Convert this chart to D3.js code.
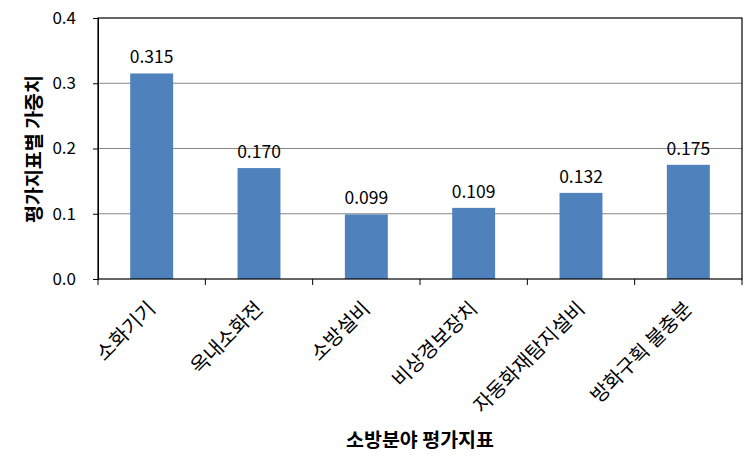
<!DOCTYPE html>
<html><head><meta charset="utf-8">
<script src="https://cdn.jsdelivr.net/npm/d3@7"></script>
<style>body{margin:0;background:#fff;} text{font-family:"Noto Sans CJK KR","Noto Sans",sans-serif;}</style>
</head><body><svg id="c" width="756" height="473"></svg>
<script>
const categories = ["소화기기","옥내소화전","소방설비","비상경보장치","자동화재탐지설비","방화구획 불충분"];
const values = [0.315, 0.170, 0.099, 0.109, 0.132, 0.175];
const yTicks = [0.0, 0.1, 0.2, 0.3, 0.4];
const yTitle = "평가지표별 가중치";
const xTitle = "소방분야 평가지표";

const svg = d3.select("#c");
const L = 98, R = 742, T = 18, B = 279;
const x = d3.scaleBand().domain(categories).range([L, R]).paddingInner(0.6).paddingOuter(0.3);
const y = d3.scaleLinear().domain([0, 0.4]).range([B, T]);

// gridlines
svg.append("g").selectAll("line").data(yTicks.filter(d => d > 0 && d < 0.4)).join("line")
  .attr("x1", L).attr("x2", R).attr("y1", d => y(d)).attr("y2", d => y(d))
  .attr("stroke", "#868686").attr("stroke-width", 1);

// bars
svg.append("g").selectAll("rect").data(values).join("rect")
  .attr("x", (d, i) => x(categories[i])).attr("width", x.bandwidth())
  .attr("y", d => y(d)).attr("height", d => B - y(d))
  .attr("fill", "#4F81BD");

// value labels
svg.append("g").selectAll("text").data(values).join("text")
  .attr("x", (d, i) => x(categories[i]) + x.bandwidth() / 2)
  .attr("y", d => y(d) - 10)
  .attr("text-anchor", "middle").attr("font-size", 17.5).attr("fill", "#000")
  .text(d => d.toFixed(3));

// frame
svg.append("rect").attr("x", L).attr("y", T).attr("width", R - L).attr("height", B - T)
  .attr("fill", "none").attr("stroke", "#000").attr("stroke-width", 1.2);

// y axis
const ya = svg.append("g").attr("transform", `translate(${L},0)`)
  .call(d3.axisLeft(y).tickValues(yTicks).tickFormat(d3.format(".1f")).tickSize(5).tickPadding(17));
ya.select(".domain").attr("stroke", "#000");
ya.selectAll("text").attr("font-size", 17).attr("fill", "#000").style("font-family", '"Noto Sans CJK KR",sans-serif');

// x axis ticks
const step = (R - L) / categories.length;
svg.append("g").selectAll("line").data(d3.range(categories.length + 1)).join("line")
  .attr("x1", i => L + i * step).attr("x2", i => L + i * step)
  .attr("y1", B).attr("y2", B + 6).attr("stroke", "#000");

// x labels rotated
svg.append("g").selectAll("text").data(categories).join("text")
  .attr("transform", d => `translate(${x(d) + x.bandwidth() / 2 + 5},${B + 31}) rotate(-45)`)
  .attr("text-anchor", "end").attr("font-size", 20).attr("fill", "#000")
  .text(d => d);

// titles
svg.append("text").attr("transform", `translate(41,149) rotate(-90)`)
  .attr("text-anchor", "middle").attr("font-size", 19.5).attr("font-weight", "bold").text(yTitle);
svg.append("text").attr("x", 420).attr("y", 447)
  .attr("text-anchor", "middle").attr("font-size", 19.5).attr("font-weight", "bold").text(xTitle);
</script></body></html>
